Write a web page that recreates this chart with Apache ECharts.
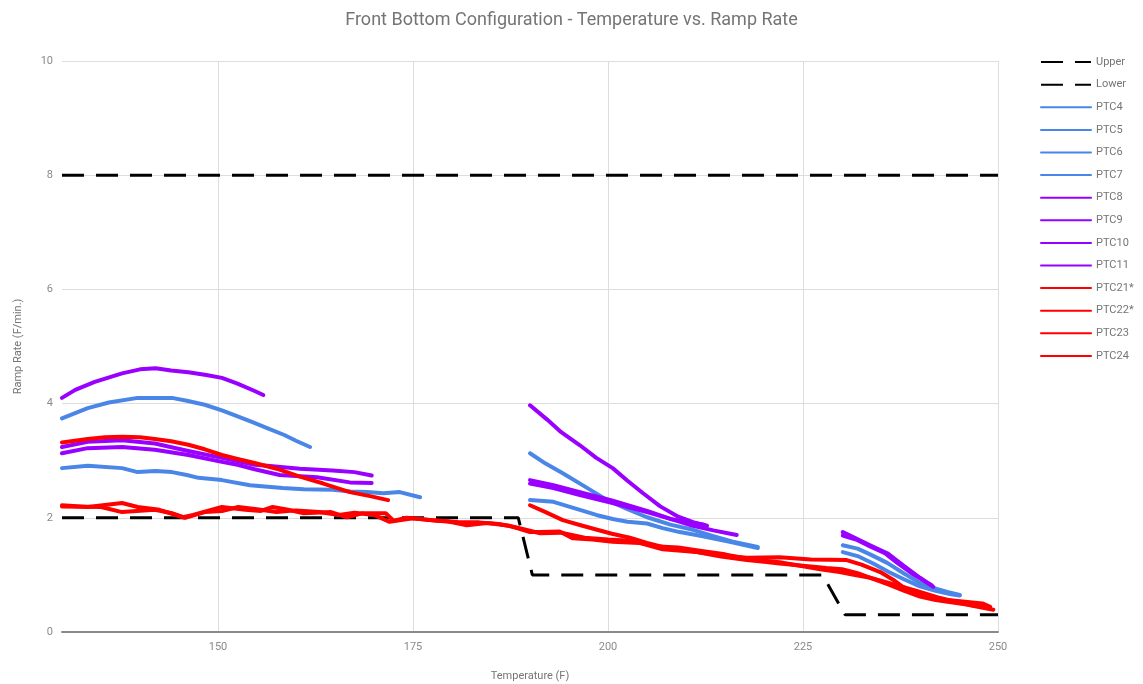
<!DOCTYPE html>
<html>
<head>
<meta charset="utf-8">
<script src="https://cdn.jsdelivr.net/npm/echarts@6/dist/echarts.min.js"></script>
<style>html,body{margin:0;padding:0;background:#fff}#c{width:1143px;height:684px}</style>
</head>
<body>
<div id="c"></div>
<script>
const xTicks = [150, 175, 200, 225, 250];
const yTicks = [0, 2, 4, 6, 8, 10];
const GAP = '-';

const Upper = [[130, 8], [250, 8]];
const Lower = [[130, 2], [188.5, 2], [190.3, 1], [227.5, 1], [230.4, 0.3], [250, 0.3]];

const PTC4 = [[130,3.74],[133.3,3.92],[136,4.02],[139.7,4.1],[142,4.1],[144.1,4.1],[146,4.05],[148.3,3.98],[150.5,3.88],[152.6,3.77],[154.5,3.67],[156.3,3.57],[158.5,3.45],[160,3.35],[161.8,3.24]];
const PTC5 = [[130,2.87],[133.3,2.91],[137.7,2.87],[139.7,2.8],[142,2.82],[144.1,2.8],[146,2.75],[147.5,2.7],[150.5,2.66],[154.1,2.57],[156,2.55],[158.3,2.52],[161,2.5],[164.7,2.49],[167,2.46],[169.1,2.45],[171.2,2.43],[173.3,2.45],[175.9,2.36]];
const PTC6 = [[190,3.13],[192,2.95],[194.2,2.78],[197,2.55],[199.9,2.31],[202.5,2.15],[205,2.01],[208,1.88],[210.9,1.79],[213.5,1.68],[216,1.58],[219.2,1.49],[219.3,GAP],
              [230.1,1.52],[232,1.46],[233.6,1.36],[235.8,1.21],[238,1.02],[240,0.86],[241.7,0.77],[243.5,0.7],[245.1,0.65]];
const PTC7 = [[190,2.31],[193,2.28],[196.4,2.14],[198.5,2.05],[200.6,1.98],[202.5,1.93],[205,1.9],[207,1.82],[209.2,1.75],[212,1.68],[215.6,1.58],[219.2,1.47],[219.3,GAP],
              [230.1,1.4],[232,1.33],[234,1.2],[236,1.05],[238,0.92],[240,0.8],[242,0.72],[244,0.66],[245.1,0.64]];
const PTC8 = [[130,4.1],[131.7,4.24],[134.2,4.38],[137.7,4.53],[140,4.6],[142,4.62],[144,4.58],[146.2,4.55],[148.5,4.5],[150.5,4.45],[152.5,4.35],[154.7,4.22],[155.8,4.15]];
const PTC9 = [[130,3.24],[133.3,3.33],[137.7,3.36],[141.9,3.3],[146.2,3.17],[150.5,3.05],[154.7,2.93],[156.3,2.91],[160.5,2.86],[164.7,2.83],[167.5,2.8],[169.7,2.74],[169.8,GAP],
              [190,3.97],[192.2,3.72],[194,3.5],[196.4,3.27],[198.5,3.05],[200.6,2.87],[202.5,2.65],[204.5,2.43],[206.7,2.2],[209,2.02],[211,1.92],[212.7,1.86]];
const PTC10 = [[130,3.13],[133.3,3.22],[137.7,3.24],[141.9,3.19],[146.2,3.1],[150.5,2.98],[152.5,2.93],[154.7,2.85],[157.9,2.75],[160,2.73],[162.7,2.71],[166.9,2.62],[169.7,2.61],[169.8,GAP],
               [190,2.66],[193,2.57],[196.4,2.45],[200.6,2.3],[205,2.12],[208,1.98],[210.9,1.86],[213.5,1.78],[216.5,1.7],[216.6,GAP],
               [230.1,1.75],[231.5,1.66],[233.6,1.52],[235.8,1.38],[237.8,1.17],[240,0.95],[241.7,0.79]];
const PTC11 = [[190,2.6],[193,2.52],[196.4,2.4],[200.6,2.26],[205,2.1],[208,1.98],[210.5,1.92],[212.3,1.88],[212.4,GAP],
               [230.1,1.69],[231.8,1.62],[233.6,1.5],[235.5,1.38],[237,1.22],[239,1.02],[240.5,0.9],[241.5,0.82]];
const PTC21 = [[130,2.22],[133.3,2.19],[137.7,2.26],[139.7,2.19],[142.5,2.14],[145.5,2.01],[146.8,2.05],[150.5,2.19],[153.5,2.14],[155.5,2.12],[157,2.19],[159,2.14],[161,2.08],[164.5,2.1],[166.5,2.01],[168.5,2.08],[171.5,2.08],[172.5,1.95],[174.2,2.0],[177.2,1.96],[179.4,1.94],[181.9,1.87],[184.5,1.91],[187.4,1.86],[190,1.75],[191.3,1.75],[193.8,1.76],[195.5,1.64],[198,1.62],[200.6,1.58],[204,1.56],[207,1.45],[211.4,1.4],[214.5,1.34],[217.8,1.3],[222,1.31],[226,1.27],[230.6,1.26],[232.5,1.18],[234.9,1.05],[236.5,0.92],[237.8,0.79],[240,0.65],[241.7,0.58],[244.2,0.55],[248,0.5],[249,0.44]];
const PTC22 = [[130,2.2],[135,2.19],[137.7,2.1],[141.9,2.14],[144.1,2.08],[145.8,2.0],[148.3,2.1],[150.5,2.12],[152.6,2.19],[155,2.15],[157.5,2.1],[160,2.13],[163,2.1],[165.5,2.05],[167.5,2.09],[170,2.05],[172,1.93],[175,1.99],[178,1.95],[181,1.92],[183.5,1.92],[186,1.89],[188,1.84],[191.3,1.73],[194,1.74],[197,1.65],[200,1.62],[203,1.6],[206,1.5],[209,1.48],[212,1.42],[215,1.36],[218,1.28],[222,1.22],[225,1.15],[227.2,1.1],[229.7,1.05],[231.5,1.0],[233.6,0.95],[236,0.86],[237.8,0.79],[240,0.7],[242.2,0.61],[244.5,0.53],[246.4,0.47],[249.4,0.39]];
const PTC23 = [[130,3.32],[133.3,3.38],[135.5,3.41],[137.7,3.42],[140,3.41],[141.9,3.38],[144,3.34],[146.2,3.28],[148.3,3.2],[150.5,3.1],[152.5,3.03],[154.7,2.96],[157.5,2.86],[160.5,2.72],[163.5,2.6],[166.9,2.45],[169.5,2.38],[171.8,2.31]];
const PTC24 = [[190,2.22],[192,2.1],[194.2,1.96],[196.5,1.87],[198.6,1.79],[200.5,1.72],[202.8,1.65],[205,1.56],[207,1.49],[209,1.45],[211.4,1.4],[214.5,1.32],[217.8,1.26],[220,1.23],[222,1.2],[225,1.16],[228,1.12],[230,1.1],[232,1.03],[234,0.93],[236,0.83],[238,0.72],[240,0.62],[242,0.56],[244,0.52],[246,0.48],[248.6,0.44]];

const BLUE = '#4a86e8', PURPLE = '#9900ff', RED = '#ff0000';
const seriesDefs = [
  ['Upper', Upper, '#000000', true],
  ['Lower', Lower, '#000000', true],
  ['PTC4', PTC4, BLUE], ['PTC5', PTC5, BLUE], ['PTC6', PTC6, BLUE], ['PTC7', PTC7, BLUE],
  ['PTC8', PTC8, PURPLE], ['PTC9', PTC9, PURPLE], ['PTC10', PTC10, PURPLE], ['PTC11', PTC11, PURPLE],
  ['PTC21*', PTC21, RED], ['PTC22*', PTC22, RED], ['PTC23', PTC23, RED], ['PTC24', PTC24, RED]
];

const chart = echarts.init(document.getElementById('c'), null, {renderer: 'canvas'});
const font = 'Roboto, "Noto Sans", sans-serif';
chart.setOption({
  animation: false,
  backgroundColor: '#ffffff',
  textStyle: {fontFamily: font},
  title: {
    text: 'Front Bottom Configuration - Temperature vs. Ramp Rate',
    left: 'center', top: 6,
    textStyle: {fontFamily: font, fontSize: 18, fontWeight: 'normal', color: '#757575'}
  },
  legend: {
    orient: 'vertical', left: 1040, top: 56.5,
    itemWidth: 50, itemHeight: 14, itemGap: 11.4, padding: 0,
    itemStyle: {opacity: 0},
    data: seriesDefs.map(d => d[0]),
    textStyle: {fontFamily: font, fontSize: 11, color: '#757575'}
  },
  grid: {left: 62, right: 145, top: 61, bottom: 52, containLabel: false, outerBoundsMode: 'none'},
  xAxis: {
    type: 'value', min: 130, max: 250,
    name: 'Temperature (F)', nameLocation: 'middle', nameGap: 39,
    nameTextStyle: {fontFamily: font, fontSize: 11, color: '#757575'},
    axisLine: {show: true, onZero: false, lineStyle: {color: '#8a8a8a', width: 2}},
    axisTick: {show: false, customValues: xTicks},
    axisLabel: {customValues: xTicks, color: '#8a8a8a', fontSize: 11, margin: 10, fontFamily: font},
    splitLine: {show: true, lineStyle: {color: '#dddddd', width: 1}}
  },
  yAxis: {
    type: 'value', min: 0, max: 10, interval: 2,
    name: 'Ramp Rate (F/min.)', nameLocation: 'middle', nameGap: 38,
    nameTextStyle: {fontFamily: font, fontSize: 11, color: '#757575'},
    axisLine: {show: false},
    axisTick: {show: false},
    axisLabel: {color: '#8a8a8a', fontSize: 11, margin: 9, fontFamily: font},
    splitLine: {show: true, lineStyle: {color: '#dddddd', width: 1}}
  },
  series: seriesDefs.map(d => ({
    name: d[0], type: 'line', data: d[1], symbol: 'none', showSymbol: false,
    connectNulls: false, smooth: false,
    color: d[2],
    lineStyle: d[3] ? {color: d[2], width: 3, type: [22, 12]} : {color: d[2], width: 4, cap: 'round', join: 'round'},
    emphasis: {disabled: true}
  }))
});
</script>
</body>
</html>
